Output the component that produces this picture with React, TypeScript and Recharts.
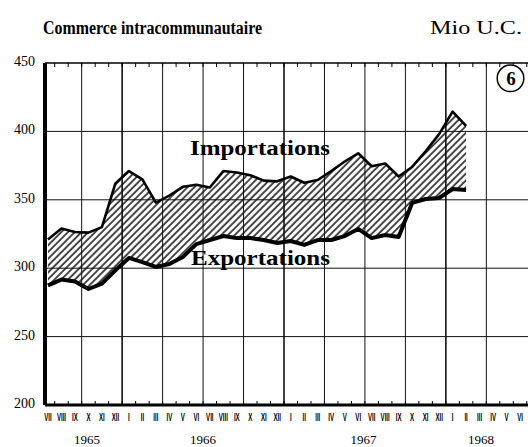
import React from "react";
import {
  ComposedChart,
  Area,
  Line,
  XAxis,
  YAxis,
  ReferenceLine,
} from "recharts";

// Monthly values, Mio U.C., VII 1965 .. II 1968
const monthLabels = [
  "VII", "VIII", "IX", "X", "XI", "XII",
  "I", "II", "III", "IV", "V", "VI", "VII", "VIII", "IX", "X", "XI", "XII",
  "I", "II", "III", "IV", "V", "VI", "VII", "VIII", "IX", "X", "XI", "XII",
  "I", "II", "III", "IV", "V", "VI",
];
const importations = [
  321, 329, 326.5, 326, 330, 362, 371, 365, 348, 353, 359.5, 361, 359, 371, 370, 368,
  364, 363.5, 367, 362.5, 364.5, 371, 378, 384, 374.5, 376.5, 367, 374, 385.5, 398, 414.5, 404,
];
const exportations = [
  287.4, 291.7, 290.3, 284.8, 288.7, 298.5, 307.5, 304.5, 300.9, 303.1, 308.2, 317.6, 320.6,
  323.5, 322, 322, 320.6, 318.4, 319.9, 317, 320.6, 320.6, 323.5, 328.7, 322, 324.3, 322.8,
  347.7, 350.6, 351.3, 357.9, 357.2,
];
const years = ["1965", "1966", "1967", "1968"];
const yearPos = [3.4, 12, 23.9, 32.6];
const yTicks = [200, 250, 300, 350, 400, 450];
const gridMonths = [3, 6, 9, 12, 15, 18, 21, 24, 27, 30, 33];
const yearBreaks = [6, 18, 30];

const SERIF = "'Liberation Serif', 'Times New Roman', serif";
const SANS = "'Liberation Sans', Arial, sans-serif";
const X_DOMAIN: [number, number] = [0.28, 36.09];

const rows = importations.map((imp, i) => ({
  m: i + 0.5,
  imp,
  exp: exportations[i],
  band: [exportations[i], imp],
}));
const monthTicks = monthLabels.map((_, i) => i + 0.5);
const boundaryTicks = monthLabels.map((_, i) => i + 1);

function YTick(props: any) {
  const { x, y, payload } = props;
  return (
    <text x={x} y={y + 3} textAnchor="end" fontFamily={SERIF} fontSize={14} fill="#000">
      {payload.value}
    </text>
  );
}

// roman month numerals, squeezed like the printed condensed type
function MonthTick(props: any) {
  const { x, y, payload } = props;
  const idx = Math.round(payload.value - 0.5);
  return (
    <text
      transform={`translate(${x},${y + 8}) scale(0.58,1)`}
      textAnchor="middle"
      fontFamily={SANS}
      fontWeight="bold"
      fontSize={10.5}
      fill="#000"
    >
      {monthLabels[idx]}
    </text>
  );
}

function YearTick(props: any) {
  const { x, y, index } = props;
  return (
    <text x={x} y={y + 11} textAnchor="middle" fontFamily={SERIF} fontSize={13} fill="#000">
      {years[index]}
    </text>
  );
}

const NoTick = () => <g />;

export default function App() {
  return (
    <div style={{ position: "absolute", left: 0, top: 0, width: 528, height: 447, background: "#fff", overflow: "hidden" }}>
      <svg width={528} height={447} style={{ position: "absolute", left: 0, top: 0 }}>
        <defs>
          <pattern id="hatch" patternUnits="userSpaceOnUse" width={4.8} height={10} patternTransform="rotate(45)">
            <line x1={1} y1={0} x2={1} y2={10} stroke="#000" strokeWidth={1.4} />
          </pattern>
        </defs>
      </svg>
      <div style={{ position: "absolute", left: 0, top: 0 }}>
        <ComposedChart width={528} height={447} data={rows} margin={{ top: 63, right: 0, bottom: 0, left: 0 }}>
          <XAxis
            xAxisId="m"
            dataKey="m"
            type="number"
            domain={X_DOMAIN}
            allowDataOverflow
            ticks={monthTicks}
            interval={0}
            height={20}
            tickLine={false}
            tickSize={0}
            tickMargin={8}
            tick={<MonthTick />}
            axisLine={{ stroke: "#000", strokeWidth: 3 }}
          />
          <XAxis
            xAxisId="yr"
            dataKey="m"
            type="number"
            domain={X_DOMAIN}
            allowDataOverflow
            ticks={yearPos}
            interval={0}
            height={22}
            tickLine={false}
            tickSize={0}
            tickMargin={8}
            tick={<YearTick />}
            axisLine={false}
          />
          <XAxis
            xAxisId="bt"
            dataKey="m"
            type="number"
            domain={X_DOMAIN}
            allowDataOverflow
            ticks={boundaryTicks}
            interval={0}
            height={1}
            mirror
            tickSize={4}
            tickLine={{ stroke: "#000", strokeWidth: 1 }}
            tick={<NoTick />}
            axisLine={false}
          />
          <XAxis
            xAxisId="top"
            orientation="top"
            dataKey="m"
            type="number"
            domain={X_DOMAIN}
            allowDataOverflow
            ticks={boundaryTicks}
            interval={0}
            height={1}
            mirror
            tickSize={4}
            tickLine={{ stroke: "#000", strokeWidth: 1 }}
            tick={<NoTick />}
            axisLine={{ stroke: "#000", strokeWidth: 1.5 }}
          />
          <YAxis
            domain={[200, 450]}
            ticks={yTicks}
            width={45}
            interval={0}
            tickLine={false}
            tickSize={0}
            tickMargin={10}
            tick={<YTick />}
            axisLine={{ stroke: "#000", strokeWidth: 4 }}
          />
          {yTicks.slice(1, 5).map((v) => (
            <ReferenceLine key={"h" + v} xAxisId="m" y={v} stroke="#111" strokeWidth={1} />
          ))}
          {gridMonths.map((g) => (
            <ReferenceLine
              key={"v" + g}
              xAxisId="m"
              x={g}
              stroke="#111"
              strokeWidth={yearBreaks.includes(g) ? 1.6 : 1}
            />
          ))}
          <Area
            xAxisId="m"
            dataKey="band"
            type="linear"
            stroke="none"
            fill="url(#hatch)"
            fillOpacity={1}
            isAnimationActive={false}
          />
          <Line
            xAxisId="m"
            dataKey="imp"
            type="linear"
            stroke="#000"
            strokeWidth={2.6}
            dot={false}
            strokeLinejoin="round"
            isAnimationActive={false}
          />
          <Line
            xAxisId="m"
            dataKey="exp"
            type="linear"
            stroke="#000"
            strokeWidth={4}
            dot={false}
            strokeLinejoin="round"
            isAnimationActive={false}
          />
        </ComposedChart>
      </div>
      <svg width={528} height={447} style={{ position: "absolute", left: 0, top: 0, pointerEvents: "none" }}>
        <text x={43} y={34} fontFamily={SERIF} fontWeight="bold" fontSize={18} textLength={219} lengthAdjust="spacingAndGlyphs" fill="#000">
          Commerce intracommunautaire
        </text>
        <text x={430} y={34} fontFamily={SERIF} fontSize={18} textLength={92} lengthAdjust="spacingAndGlyphs" fill="#000">
          Mio U.C.
        </text>
        <text x={190} y={155} fontFamily={SERIF} fontWeight="bold" fontSize={21} textLength={140} lengthAdjust="spacingAndGlyphs" fill="#000">
          Importations
        </text>
        <text x={191} y={265} fontFamily={SERIF} fontWeight="bold" fontSize={21} textLength={139} lengthAdjust="spacingAndGlyphs" fill="#000">
          Exportations
        </text>
        <circle cx={510.5} cy={78.3} r={13.3} fill="#fff" stroke="#000" strokeWidth={1.5} />
        <text x={511} y={85} textAnchor="middle" fontFamily={SERIF} fontWeight="bold" fontSize={19} fill="#000">
          6
        </text>
      </svg>
    </div>
  );
}
